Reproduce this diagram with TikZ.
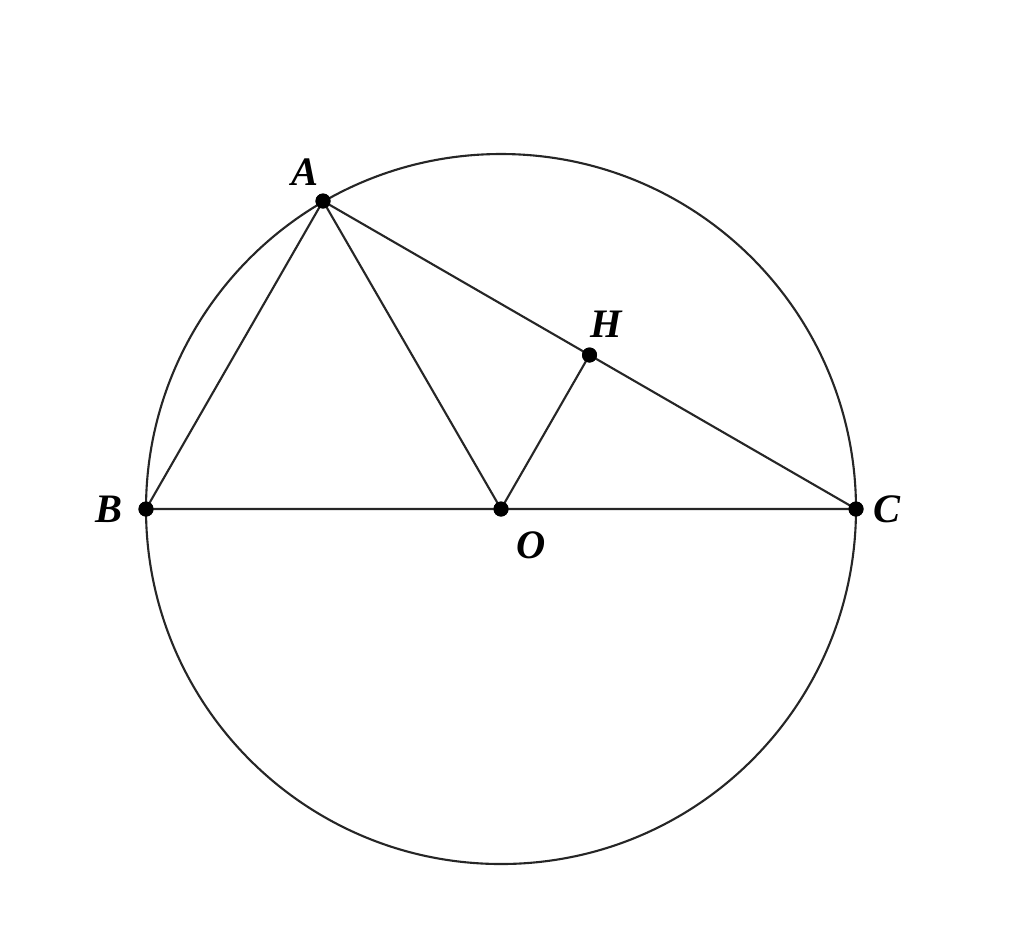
\documentclass[tikz,border=0pt]{standalone}
\usepackage{fontspec}
\setmainfont{Liberation Serif}
\usetikzlibrary{calc}
\begin{document}
\begin{tikzpicture}[x=0.01cm,y=-0.01cm,
  seg/.style={line width=0.6pt,black!85},
  pt/.style={circle,fill=black,inner sep=0pt,minimum size=0.15cm},
  lab/.style={font=\fontsize{11.5}{13}\selectfont\bfseries\itshape,inner sep=0pt}]
\useasboundingbox (0,0) rectangle (1024,944);
\coordinate (Oc) at (501,509);
\draw[seg] (Oc) circle[radius=355];
\node[pt] (O) at (Oc) {};
\node[pt] (B) at (146,509) {};
\node[pt] (C) at (856,509) {};
\node[pt] (A) at (323,201) {};
\node[pt] (H) at ($(A)!0.5!(C)$) {};
\draw[seg] (B.center) -- (A.center) -- (C.center) -- (B.center);
\draw[seg] (A.center) -- (O.center) -- (H.center);
\node[pt] at (O) {};
\node[pt] at (B) {};
\node[pt] at (C) {};
\node[pt] at (A) {};
\node[pt] at (H) {};
\node[lab] (lA) at (305,172) {A};
\node[lab] (lB) at (109,509) {B};
\node[lab] (lC) at (887,509) {C};
\node[lab] (lO) at (531,545) {O};
\node[lab] (lH) at (606,324) {H};
\end{tikzpicture}
\end{document}
